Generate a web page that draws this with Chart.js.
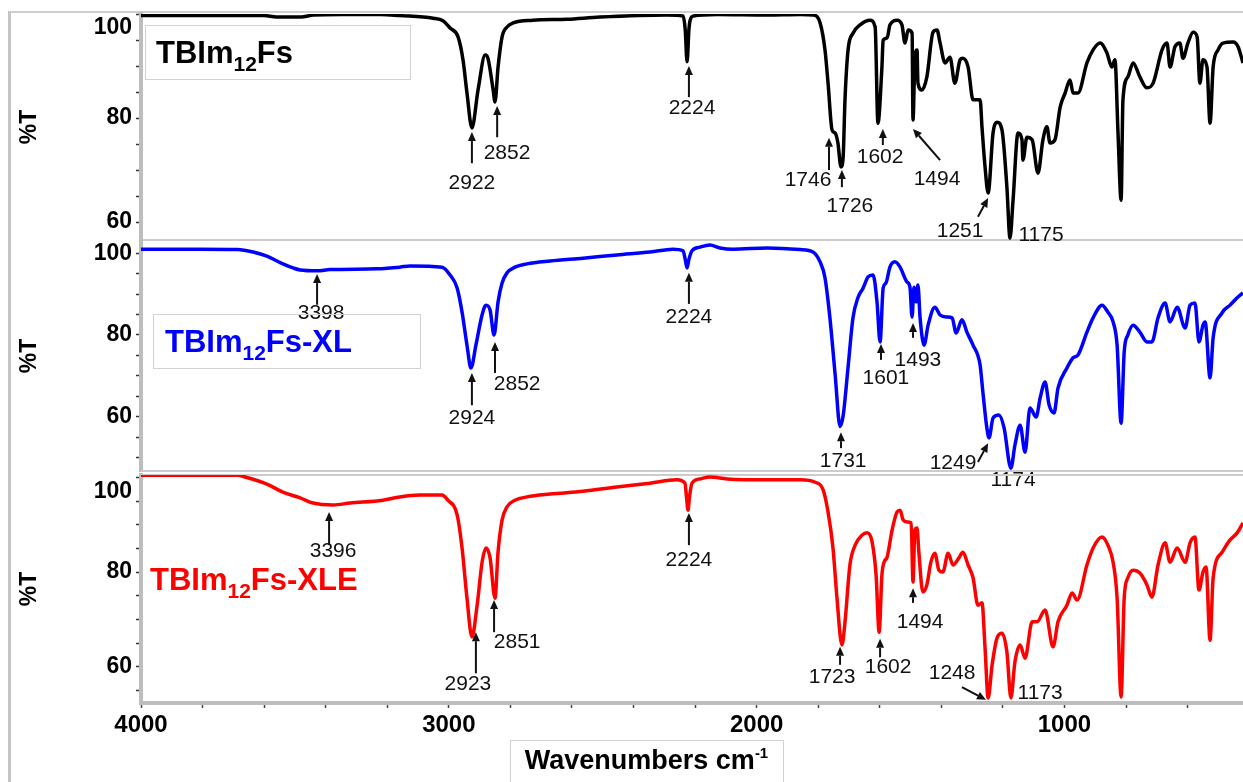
<!DOCTYPE html>
<html>
<head>
<meta charset="utf-8">
<script src="https://cdn.jsdelivr.net/npm/chart.js@4.4.1/dist/chart.umd.min.js"></script>
<style>
  body { margin: 0; background: #fff; width: 1243px; height: 782px; overflow: hidden; position: relative;
         font-family: 'Liberation Sans', Arial, sans-serif; }
  canvas { position: absolute; left: 0; top: 0; }
  .frame { position: absolute; left: 8px; top: 11px; width: 1240px; height: 780px;
           border-left: 3px solid #c4c4c4; border-top: 2px solid #cfcfcf; }
  .box { position: absolute; border: 1px solid #d2d2d2; }
  .tag { position: absolute; font-weight: bold; font-size: 31px; line-height: 31px; white-space: nowrap; }
  .tag sub { font-size: 21px; line-height: 0; vertical-align: -8px; }
  .xtitle { position: absolute; left: 510px; top: 747px; width: 273px; text-align: center;
            font-weight: bold; font-size: 27px; line-height: 27px; white-space: nowrap; }
  .xtitle sup { font-size: 15px; line-height: 0; vertical-align: 11px; }
</style>
</head>
<body>
<div class="frame"></div>
<canvas id="pure" width="1243" height="782"></canvas>
<canvas id="xl" width="1243" height="782"></canvas>
<canvas id="xle" width="1243" height="782"></canvas>

<div class="box" style="left:145px;top:25px;width:264px;height:53px"></div>
<div class="tag" style="left:156px;top:37px;color:#000">TBIm<sub>12</sub>Fs</div>
<div class="box" style="left:153px;top:314px;width:266px;height:53px"></div>
<div class="tag" style="left:165px;top:326px;color:#0000ff">TBIm<sub>12</sub>Fs-XL</div>
<div class="tag" style="left:150px;top:564px;color:#ff0000">TBIm<sub>12</sub>Fs-XLE</div>
<div class="box" style="left:510px;top:740px;width:272px;height:60px"></div>
<div class="xtitle">Wavenumbers cm<sup>-1</sup></div>

<script>
// TBIm12Fs (black)
const wnPure = [4000, 3600, 3560, 3480, 3440, 3350, 3220, 3160, 3051, 3019, 2996, 2970, 2954, 2941, 2925, 2905, 2882, 2873, 2856, 2850,
  2840, 2827, 2811, 2791, 2727, 2616, 2509, 2291, 2239, 2232, 2226, 2220, 2216, 2206, 2129, 1966, 1859, 1817, 1794, 1778,
  1768, 1755, 1745, 1736, 1726, 1719, 1713, 1703, 1687, 1664, 1632, 1615, 1606, 1593, 1589, 1576, 1567, 1544, 1528, 1518,
  1508, 1495, 1492, 1486, 1479, 1476, 1463, 1447, 1427, 1414, 1404, 1388, 1372, 1356, 1339, 1330, 1313, 1297, 1274, 1268,
  1258, 1248, 1232, 1219, 1203, 1187, 1177, 1167, 1151, 1138, 1135, 1122, 1105, 1086, 1070, 1057, 1047, 1031, 1014, 998,
  982, 972, 956, 927, 907, 884, 862, 846, 836, 826, 816, 810, 794, 777, 755, 732, 712, 683, 667, 657,
  641, 625, 615, 599, 582, 569, 560, 550, 537, 527, 517, 501, 485, 452, 436, 420];
const tPure = [99.7, 99.7, 99.4, 99.4, 99.8, 99.9, 99.9, 99.7, 99.2, 98.7, 97.3, 95.6, 91.2, 84.8, 78.1, 85.4, 92.1, 91.5, 85.4, 83.1,
  89.8, 95.6, 97.5, 98.3, 98.8, 99.0, 99.4, 99.8, 99.6, 97.0, 90.8, 97.0, 98.8, 99.6, 99.9, 99.8, 99.9, 99.8, 98.3, 93.1,
  86.7, 77.7, 77.1, 75.2, 70.6, 72.5, 83.5, 93.1, 96.3, 97.9, 98.8, 97.5, 79.0, 89.8, 95.0, 95.4, 97.9, 98.8, 97.9, 94.4,
  96.9, 96.3, 79.6, 91.2, 93.1, 86.7, 85.4, 87.9, 96.5, 96.9, 94.4, 90.6, 91.7, 86.7, 91.2, 91.5, 89.8, 83.5, 83.5, 78.3,
  70.6, 65.6, 77.1, 79.2, 77.7, 66.7, 56.9, 64.2, 77.1, 75.8, 71.9, 76.3, 75.8, 69.4, 75.8, 78.3, 75.2, 75.8, 82.1, 84.8,
  87.3, 84.8, 84.8, 90.6, 93.1, 94.4, 92.5, 89.8, 91.2, 77.1, 64.2, 83.5, 87.9, 90.6, 87.9, 85.8, 86.7, 93.1, 94.4, 89.8,
  93.7, 94.4, 91.5, 94.4, 96.5, 95.6, 86.7, 91.2, 89.8, 79.0, 89.8, 93.1, 94.4, 94.6, 93.7, 90.6];

// TBIm12Fs-XL (blue)
const wnXL = [4000, 3808, 3688, 3636, 3591, 3539, 3506, 3483, 3428, 3386, 3233, 3159, 3126, 3022, 2996, 2973, 2957, 2941, 2928, 2912,
  2892, 2879, 2866, 2853, 2840, 2827, 2811, 2785, 2746, 2671, 2564, 2454, 2346, 2272, 2239, 2232, 2226, 2220, 2210, 2184,
  2152, 2119, 2077, 1966, 1859, 1817, 1794, 1778, 1762, 1745, 1729, 1719, 1703, 1687, 1671, 1654, 1638, 1622, 1609, 1599,
  1589, 1580, 1567, 1551, 1534, 1512, 1502, 1495, 1489, 1482, 1476, 1469, 1456, 1443, 1421, 1404, 1382, 1365, 1352, 1333,
  1317, 1297, 1274, 1265, 1252, 1245, 1232, 1213, 1196, 1174, 1161, 1144, 1128, 1112, 1092, 1079, 1063, 1050, 1034, 1021,
  992, 972, 956, 927, 907, 878, 859, 842, 829, 816, 806, 794, 777, 755, 732, 716, 696, 673, 657, 634,
  608, 592, 576, 563, 550, 543, 527, 517, 488, 462, 439, 420];
const tXL = [101.0, 101.0, 100.9, 100.3, 99.3, 97.4, 96.4, 95.9, 95.7, 96.0, 96.2, 96.6, 96.9, 96.6, 94.7, 91.5, 85.6, 77.5, 71.9, 77.5,
  84.9, 87.3, 86.1, 80.0, 88.1, 92.7, 95.2, 96.6, 97.4, 98.1, 98.8, 99.6, 100.3, 101.0, 100.6, 98.5, 96.4, 98.5, 100.6, 101.5,
  102.0, 101.3, 101.0, 101.3, 100.9, 100.3, 97.9, 94.0, 84.2, 70.3, 57.6, 60.2, 72.1, 84.2, 89.1, 91.5, 94.2, 94.7, 88.1, 78.3,
  91.5, 92.7, 96.6, 97.9, 96.6, 93.0, 91.7, 84.4, 91.7, 88.1, 92.2, 84.2, 77.5, 82.4, 86.8, 84.9, 84.4, 84.2, 80.5, 83.7,
  80.7, 77.5, 72.6, 66.0, 57.2, 54.8, 59.7, 60.4, 57.2, 47.4, 53.0, 57.9, 51.3, 62.1, 59.9, 64.6, 68.5, 62.9, 60.9, 67.0,
  71.9, 74.4, 75.1, 80.7, 84.2, 87.3, 85.6, 83.2, 77.5, 58.4, 75.8, 80.0, 82.4, 80.7, 78.3, 78.3, 84.2, 87.8, 83.2, 86.8,
  81.7, 87.3, 87.8, 78.3, 82.4, 83.2, 69.5, 79.3, 85.4, 87.3, 89.1, 90.3];

// TBIm12Fs-XLE (red)
const wnXLE = [4000, 3688, 3656, 3591, 3539, 3483, 3441, 3376, 3321, 3214, 3159, 3094, 3022, 3003, 2973, 2957, 2941, 2925, 2908, 2892,
  2879, 2866, 2850, 2840, 2827, 2811, 2785, 2746, 2671, 2564, 2454, 2346, 2259, 2233, 2228, 2223, 2218, 2210, 2184, 2152,
  2096, 1966, 1859, 1810, 1784, 1768, 1752, 1739, 1723, 1713, 1697, 1680, 1658, 1641, 1625, 1612, 1602, 1593, 1586, 1576,
  1560, 1544, 1534, 1524, 1511, 1498, 1492, 1486, 1479, 1473, 1460, 1447, 1434, 1421, 1408, 1395, 1378, 1362, 1343, 1330,
  1313, 1297, 1281, 1268, 1258, 1248, 1235, 1219, 1203, 1187, 1174, 1161, 1144, 1128, 1105, 1089, 1063, 1037, 1021, 992,
  975, 959, 927, 907, 878, 859, 842, 829, 816, 806, 794, 777, 755, 732, 716, 696, 673, 657, 634, 608,
  592, 576, 563, 550, 540, 527, 517, 488, 462, 439, 420];
const tXLE = [100.5, 100.5, 100.0, 98.6, 96.9, 95.7, 94.6, 94.2, 94.6, 95.2, 95.9, 96.3, 96.3, 95.2, 92.1, 85.1, 74.5, 66.3, 73.0, 82.1,
  85.1, 83.0, 74.5, 84.3, 91.0, 93.8, 95.2, 95.9, 96.5, 97.1, 98.0, 98.8, 99.5, 98.8, 96.0, 93.1, 96.0, 98.8, 99.7, 100.1,
  99.7, 99.5, 99.5, 99.0, 97.4, 92.7, 85.1, 74.5, 64.6, 69.4, 81.5, 85.7, 87.8, 88.3, 86.4, 79.4, 67.3, 79.4, 82.1, 83.2,
  88.9, 92.7, 93.1, 91.0, 90.6, 90.4, 77.9, 88.9, 89.3, 84.2, 75.8, 77.3, 82.1, 84.0, 80.4, 80.0, 84.0, 81.5, 83.0, 84.2,
  81.5, 78.8, 73.0, 73.5, 64.0, 53.4, 60.4, 66.1, 67.1, 63.1, 53.4, 61.0, 64.6, 61.8, 69.5, 69.5, 72.0, 64.2, 69.5, 73.0,
  75.6, 74.1, 81.5, 85.1, 87.4, 85.7, 82.1, 74.5, 53.6, 74.5, 78.8, 80.4, 79.8, 77.3, 74.7, 81.5, 86.2, 82.1, 85.1, 82.1,
  86.2, 87.4, 76.2, 80.0, 81.1, 65.6, 78.8, 84.2, 86.8, 88.3, 90.4];

// peak labels: [text, tip wn, tip %T, tail wn, tail %T, label wn, label %T]
const notesPure = [
  ['2922', 2925, 77.3, 2925, 71.3, 2925, 67.5],
  ['2852', 2843, 82.3, 2843, 76.3, 2811, 73.3],
  ['2224', 2220, 90.0, 2220, 84.0, 2210, 81.9],
  ['1746', 1765, 76.2, 1765, 70.0, 1833, 68.1],
  ['1726', 1723, 70.0, 1723, 66.7, 1697, 63.1],
  ['1602', 1590, 77.9, 1590, 74.8, 1599, 72.5],
  ['1494', 1492, 77.9, 1404, 71.9, 1414, 68.3],
  ['1251', 1248, 64.6, 1281, 61.0, 1339, 58.3],
  ['1175', null, null, null, null, 1076, 57.5]
];
const notesXL = [
  ['3398', 3428, 94.9, 3428, 87.4, 3415, 85.4],
  ['2924', 2925, 70.7, 2925, 62.8, 2925, 59.7],
  ['2852', 2850, 78.3, 2850, 70.7, 2778, 68.0],
  ['2224', 2220, 95.2, 2220, 87.6, 2220, 84.4],
  ['1731', 1726, 56.2, 1726, 52.3, 1719, 49.1],
  ['1601', 1596, 77.8, 1596, 73.9, 1580, 69.3],
  ['1493', 1492, 82.9, 1492, 79.3, 1476, 73.9],
  ['1249', 1248, 53.5, 1281, 48.9, 1362, 48.6],
  ['1174', null, null, null, null, 1167, 44.5]
];
const notesXLE = [
  ['3396', 3389, 92.7, 3389, 85.7, 3376, 84.5],
  ['2923', 2912, 67.3, 2912, 58.6, 2938, 56.3],
  ['2851', 2853, 74.1, 2853, 67.3, 2778, 65.2],
  ['2224', 2220, 92.5, 2220, 85.7, 2220, 82.6],
  ['1723', 1729, 64.2, 1729, 60.4, 1755, 57.8],
  ['1602', 1599, 65.9, 1599, 62.0, 1573, 59.9],
  ['1494', 1492, 76.6, 1492, 73.5, 1469, 69.5],
  ['1248', 1255, 53.0, 1333, 55.7, 1365, 58.7],
  ['1173', null, null, null, null, 1079, 54.4]
];

const xTicks = [4000, 3800, 3600, 3400, 3200, 3000, 2800, 2600, 2400, 2200, 2000, 1800, 1600, 1400, 1200, 1000, 800, 600];
const xLabels = [4000, 3000, 2000, 1000];
const yTicksPure = [60, 65, 70, 75, 80, 85, 90, 95, 100];
const yTicksXL = [50, 55, 60, 65, 70, 75, 80, 85, 90, 95, 100];
const yTicksXLE = [55, 60, 65, 70, 75, 80, 85, 90, 95, 100];
const yLabels = [60, 80, 100];

Chart.defaults.font.family = "'Liberation Sans', Arial, sans-serif";

function arrow(ctx, x0, y0, x1, y1) {
  const a = Math.atan2(y1 - y0, x1 - x0), L = 9, W = 4;
  const bx = x1 - L * Math.cos(a), by = y1 - L * Math.sin(a);
  ctx.beginPath(); ctx.moveTo(x0, y0); ctx.lineTo(bx, by); ctx.stroke();
  ctx.beginPath(); ctx.moveTo(x1, y1);
  ctx.lineTo(bx + W * Math.sin(a), by - W * Math.cos(a));
  ctx.lineTo(bx - W * Math.sin(a), by + W * Math.cos(a));
  ctx.closePath(); ctx.fill();
}

function notesPlugin(list) {
  return {
    id: 'notes',
    afterDraw(chart) {
      const {ctx, scales: {x, y}} = chart;
      ctx.save();
      ctx.fillStyle = '#111'; ctx.strokeStyle = '#111'; ctx.lineWidth = 2;
      ctx.font = "21px 'Liberation Sans', Arial, sans-serif";
      ctx.textAlign = 'center'; ctx.textBaseline = 'middle';
      list.forEach(([text, tx, ty, sx, sy, lx, ly]) => {
        if (tx !== null) {
          arrow(ctx, x.getPixelForValue(sx), y.getPixelForValue(sy), x.getPixelForValue(tx), y.getPixelForValue(ty));
        }
        ctx.fillText(text, x.getPixelForValue(lx), y.getPixelForValue(ly));
      });
      ctx.restore();
    }
  };
}

function edgesPlugin(top, bottom) {
  return {
    id: 'edges',
    beforeDatasetsDraw(chart) {
      const {ctx, chartArea: a} = chart;
      ctx.save();
      ctx.strokeStyle = '#cccccc'; ctx.lineWidth = 2;
      if (top) { ctx.beginPath(); ctx.moveTo(a.left, a.top); ctx.lineTo(a.right, a.top); ctx.stroke(); }
      if (bottom) { ctx.beginPath(); ctx.moveTo(a.left, a.bottom); ctx.lineTo(a.right, a.bottom); ctx.stroke(); }
      ctx.restore();
    }
  };
}

function panel(id, wn, t, color, yMin, yMax, yTicks, notes, pad, last, dropTop, edges) {
  return new Chart(document.getElementById(id), {
    type: 'line',
    data: {
      datasets: [{
        data: wn.map((w, i) => ({x: w, y: t[i]})),
        borderColor: color,
        borderWidth: 3.5,
        pointRadius: 0,
        cubicInterpolationMode: 'monotone'
      }]
    },
    options: {
      responsive: false,
      animation: false,
      layout: {padding: pad},
      plugins: {legend: {display: false}, tooltip: {enabled: false}},
      scales: {
        x: {
          type: 'linear', min: 420, max: 4000, reverse: true, display: last,
          afterBuildTicks: s => { s.ticks = xTicks.map(v => ({value: v})); },
          afterFit: s => { s.height = last ? 60 : 0; },
          ticks: {
            autoSkip: false, maxRotation: 0, padding: 3, color: '#000',
            font: {size: 24, weight: 'bold'},
            callback: v => xLabels.includes(v) ? String(v) : ''
          },
          grid: {drawOnChartArea: false, tickLength: 5, tickColor: '#444', tickWidth: 1.5},
          border: {color: '#bdbdbd', width: 4}
        },
        y: {
          min: yMin, max: yMax,
          afterBuildTicks: s => { s.ticks = yTicks.map(v => ({value: v})); },
          afterFit: s => { s.width = 141; s.paddingTop = 0; s.paddingBottom = 0; },
          ticks: {
            autoSkip: false, padding: 4, color: '#000',
            font: {size: 23, weight: 'bold'},
            callback: v => {
              if (!yLabels.includes(v)) return '';
              if (dropTop && v === 100) return ['', '100'];
              return String(v);
            }
          },
          grid: {drawOnChartArea: false, tickLength: 5, tickColor: '#333', tickWidth: 1.5},
          border: {color: '#bdbdbd', width: 4},
          title: {display: true, text: '%T', color: '#000', font: {size: 23, weight: 'bold'}, padding: {top: 16, bottom: 0}}
        }
      }
    },
    plugins: [edgesPlugin(edges[0], edges[1]), notesPlugin(notes)]
  });
}

panel('pure', wnPure, tPure, '#000000', 56.54, 100, yTicksPure, notesPure,
  {top: 14, bottom: 542, left: 0, right: 0}, false, true, [false, true]);
panel('xl', wnXL, tXL, '#0000ff', 46.7, 103.0, yTicksXL, notesXL,
  {top: 241, bottom: 311, left: 0, right: 0}, false, false, [false, true]);
panel('xle', wnXLE, tXLE, '#ff0000', 52.33, 100.53, yTicksXLE, notesXLE,
  {top: 475, bottom: 19, left: 0, right: 0}, true, true, [true, false]);
</script>
</body>
</html>
